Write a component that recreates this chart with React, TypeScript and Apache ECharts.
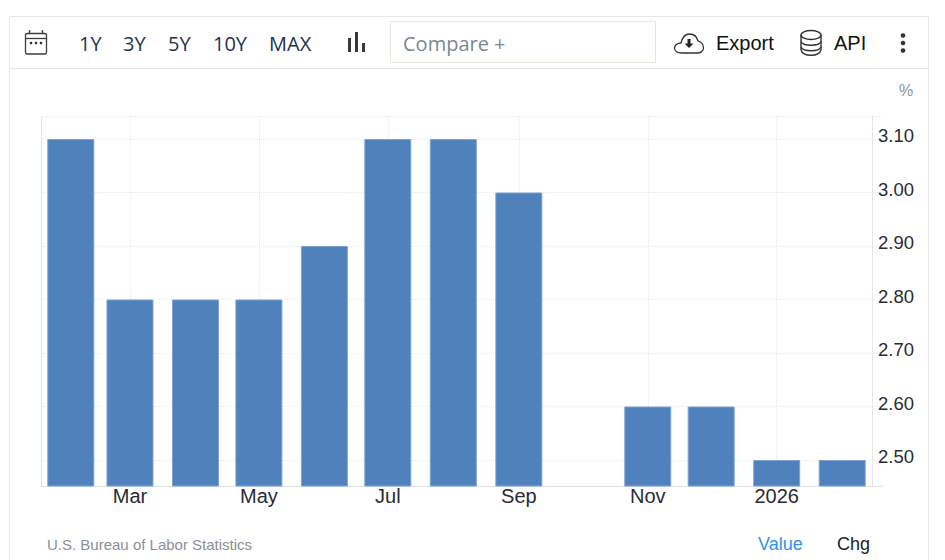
import React, { useEffect, useRef } from "react";
import * as echarts from "echarts";

const months = ["2025-02-01","2025-03-01","2025-04-01","2025-05-01","2025-06-01","2025-07-01","2025-08-01","2025-09-01","2025-10-01","2025-11-01","2025-12-01","2026-01-01","2026-02-01"];
const values: (number | null)[] = [3.1,2.8,2.8,2.8,2.9,3.1,3.1,3.0,null,2.6,2.6,2.5,2.5];
const xTickDates = ["2025-03-01","2025-05-01","2025-07-01","2025-09-01","2025-11-01","2026-01-01"];
const yTicks = [2.5,2.6,2.7,2.8,2.9,3.0,3.1];
const rangeButtons = [["1Y",79],["3Y",123],["5Y",168],["10Y",213],["MAX",269]] as [string, number][];

const Y_MIN = 2.4514, Y_MAX = 3.143;
const ts = (s: string) => new Date(s + "T00:00:00Z").getTime();
const DAY = 86400000;
const MON = ["Jan","Feb","Mar","Apr","May","Jun","Jul","Aug","Sep","Oct","Nov","Dec"];

const cloud = "M7 20 C3 20 0 18 0 15 C0 12.5 3 10 6.5 10 C8 4 11 1 15 1 C20 1 22.5 4 23.5 8 C27 9 29 12 29 15 C29 18 26 20 23 20 Z";
echarts.graphic.registerShape("cloudIcon", echarts.graphic.extendPath(cloud, {}));
const toolFont = "Open Sans, sans-serif";
const arial = "Liberation Sans, Arial, sans-serif";

function chrome(): any[] {
  const line = (x1: number, y1: number, x2: number, y2: number, stroke = "#e6e6ec", lineWidth = 1) => ({ type: "line", silent: true, shape: { x1, y1, x2, y2 }, style: { stroke, lineWidth } });
  const text = (t: string, x: number, y: number, fill: string, fontSize: number, fontFamily: string) => ({ type: "text", x, y, style: { text: t, fill, fontSize, fontFamily, verticalAlign: "middle" } });
  const bar = (x: number, y: number, h: number) => ({ type: "rect", shape: { x, y, width: 3, height: h }, style: { fill: "#3a3a3a" } });
  const dot = (cx: number, cy: number, r: number, fill = "#333") => ({ type: "circle", shape: { cx, cy, r }, style: { fill } });
  return [
    line(9.5, 16.5, 928.5, 16.5),
    line(9.5, 16.5, 9.5, 560),
    line(928.5, 16.5, 928.5, 560),
    line(9.5, 68.5, 928.5, 68.5),
    { type: "rect", shape: { x: 390.5, y: 21.5, width: 265, height: 41 }, style: { fill: "#fff", stroke: "#e6e6dc", lineWidth: 1 } },
    { type: "rect", shape: { x: 25.5, y: 33.5, width: 21, height: 20.5, r: 2 }, style: { fill: "none", stroke: "#3c3c3c", lineWidth: 1.3 } },
    line(25.5, 38.5, 46.5, 38.5, "#3c3c3c", 1.3),
    line(29.5, 30, 29.5, 34, "#3c3c3c", 1.3),
    line(42.5, 30, 42.5, 34, "#3c3c3c", 1.3),
    dot(31, 43, 1.3), dot(36, 43, 1.3), dot(41, 43, 1.3),
    ...rangeButtons.map(([t, x]) => text(t, x, 43, "#22344d", 20, toolFont)),
    bar(348, 38, 14), bar(355, 32, 20), bar(362, 43, 9),
    text("Compare +", 403, 43, "#7b8794", 20, toolFont),
    { type: "cloudIcon", x: 674.5, y: 33, style: { fill: "#fff", stroke: "#333", lineWidth: 1.3 } },
    { type: "rect", shape: { x: 687.5, y: 39, width: 3, height: 5 }, style: { fill: "#222" } },
    { type: "polygon", shape: { points: [[684.5, 43.5], [693.5, 43.5], [689, 48]] }, style: { fill: "#222" } },
    text("Export", 716, 43, "#111", 20, arial),
    { type: "ellipse", shape: { cx: 811, cy: 35, rx: 10, ry: 4.5 }, style: { fill: "#fff", stroke: "#333", lineWidth: 1.4 } },
    { type: "bezierCurve", shape: { x1: 801, y1: 41.5, x2: 821, y2: 41.5, cpx1: 803, cpy1: 46.5, cpx2: 819, cpy2: 46.5 }, style: { fill: "none", stroke: "#333", lineWidth: 1.4 } },
    { type: "bezierCurve", shape: { x1: 801, y1: 47, x2: 821, y2: 47, cpx1: 803, cpy1: 52, cpx2: 819, cpy2: 52 }, style: { fill: "none", stroke: "#333", lineWidth: 1.4 } },
    { type: "bezierCurve", shape: { x1: 801, y1: 50, x2: 821, y2: 50, cpx1: 803, cpy1: 57, cpx2: 819, cpy2: 57 }, style: { fill: "none", stroke: "#333", lineWidth: 1.4 } },
    line(801, 35, 801, 50, "#333", 1.4),
    line(821, 35, 821, 50, "#333", 1.4),
    text("API", 834, 43, "#111", 20, arial),
    dot(903, 35.5, 2.3), dot(903, 43, 2.3), dot(903, 50.5, 2.3),
    text("%", 899, 90, "#8896a5", 16, arial),
    text("U.S. Bureau of Labor Statistics", 47, 544, "#8a9098", 15, arial),
    text("Value", 758, 544, "#2a94f4", 18, arial),
    text("Chg", 837, 544, "#222", 18, arial),
  ];
}

export default function App() {
  const ref = useRef<HTMLDivElement>(null);
  useEffect(() => {
    document.body.style.margin = "0";
    const chart = echarts.init(ref.current!, undefined, { renderer: "svg" });
    const split = { show: true, lineStyle: { color: "#e8e8e8", type: "dotted" as const, width: 1 } };
    chart.setOption({
      animation: false,
      backgroundColor: "#fff",
      grid: { left: 41, top: 116, width: 842, height: 370, containLabel: false },
      xAxis: {
        type: "value",
        scale: true,
        min: ts("2025-02-01") - 14.1 * DAY,
        max: ts("2026-02-01") + 19.3 * DAY,
        axisLine: { show: true, lineStyle: { color: "#e0e0e0" } },
        axisTick: { show: false, customValues: xTickDates.map(ts) },
        axisLabel: {
          customValues: xTickDates.map(ts),
          fontFamily: arial, fontSize: 20, color: "#2b2b33", margin: 0, hideOverlap: false,
          formatter: (v: number) => { const d = new Date(v); return d.getUTCMonth() === 0 ? String(d.getUTCFullYear()) : MON[d.getUTCMonth()]; },
        },
        splitLine: split,
      },
      yAxis: [
        {
          type: "value", position: "right", offset: -11, min: Y_MIN, max: Y_MAX,
          axisLine: { show: true, lineStyle: { color: "#e6e6e6" } },
          axisTick: { show: false, customValues: [...yTicks, Y_MAX] },
          axisLabel: {
            customValues: yTicks, fontFamily: arial, fontSize: 18.5, color: "#2b2b33", margin: 6,
            verticalAlign: "bottom", lineHeight: 7,
            formatter: (v: number) => v.toFixed(2),
          },
          splitLine: split,
        },
        {
          type: "value", position: "left", min: Y_MIN, max: Y_MAX,
          axisLine: { show: true, lineStyle: { color: "#e2e2e2" } },
          axisTick: { show: false }, axisLabel: { show: false }, splitLine: { show: false },
        },
      ],
      series: [{
        type: "bar", barWidth: 47, yAxisIndex: 0,
        data: months.map((m, i) => [ts(m), values[i]]),
        itemStyle: { color: "#4f81bd", borderColor: "#7fa3d3", borderWidth: 1 },
      }],
      graphic: chrome(),
    });
    return () => chart.dispose();
  }, []);
  return <div ref={ref} style={{ width: 945, height: 560 }} />;
}
